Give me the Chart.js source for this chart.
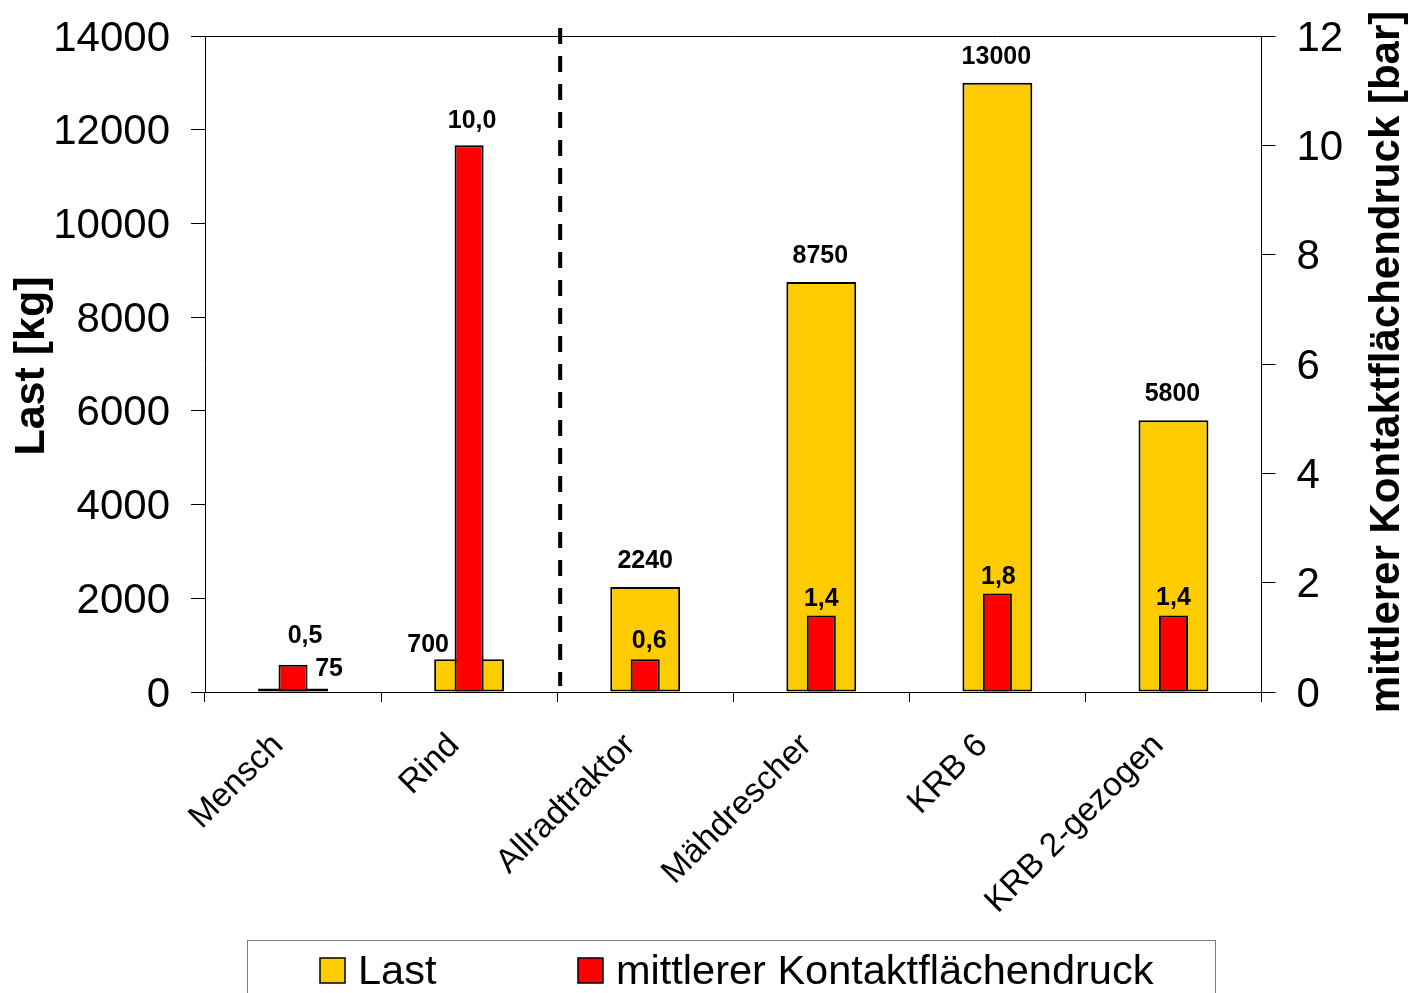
<!DOCTYPE html>
<html lang="de">
<head>
<meta charset="utf-8">
<title>Last und mittlerer Kontaktflächendruck</title>
<script src="https://cdn.jsdelivr.net/npm/chart.js@4/dist/chart.umd.min.js"></script>
<style>
  html, body { margin: 0; padding: 0; background: #ffffff; }
  #wrap { width: 1408px; height: 993px; position: relative; }
  canvas { display: block; }
</style>
</head>
<body>
<div id="wrap"><canvas id="chart" width="1408" height="993"></canvas></div>
<script>
// Categories and series values
const categories = ['Mensch', 'Rind', 'Allradtraktor', 'Mähdrescher', 'KRB 6', 'KRB 2-gezogen'];
const lastKg = [75, 700, 2240, 8750, 13000, 5800];
const druckBar = [0.5, 10.0, 0.6, 1.4, 1.8, 1.4];

// Tick values of both value axes
const lastTicks = [0, 2000, 4000, 6000, 8000, 10000, 12000, 14000];
const druckTicks = [0, 2, 4, 6, 8, 10, 12];

// Texts
const seriesNames = ['Last', 'mittlerer Kontaktflächendruck'];
const axisTitles = ['Last [kg]', 'mittlerer Kontaktflächendruck [bar]'];

const FONT = '"Liberation Sans", Arial, Helvetica, sans-serif';
const YELLOW = '#FFCC00';
const RED = '#FF0000';

Chart.defaults.font.family = FONT;
Chart.defaults.color = '#000000';

// Plot frame top edge and the dashed divider between animals and machines
const framePlugin = {
  id: 'frameAndDivider',
  afterDatasetsDraw(chart) {
    const { ctx, chartArea: a, scales: { x } } = chart;
    ctx.save();
    ctx.strokeStyle = '#000000';
    ctx.lineWidth = 1;
    ctx.beginPath();
    ctx.moveTo(a.left, a.top + 0.5);
    ctx.lineTo(a.right, a.top + 0.5);
    ctx.stroke();

    const xd = (x.getPixelForValue(1) + x.getPixelForValue(2)) / 2 + 3;
    ctx.lineWidth = 4;
    ctx.setLineDash([16, 12]);
    ctx.beginPath();
    ctx.moveTo(xd, a.top - 8);
    ctx.lineTo(xd, a.bottom - 6);
    ctx.stroke();
    ctx.restore();
  }
};

// Value labels above the bars
const valueLabelPlugin = {
  id: 'valueLabels',
  afterDatasetsDraw(chart, args, opts) {
    const { ctx } = chart;
    ctx.save();
    ctx.font = 'bold 25px ' + FONT;
    ctx.fillStyle = '#000000';
    ctx.textAlign = 'center';
    ctx.textBaseline = 'alphabetic';
    chart.data.datasets.forEach((ds, di) => {
      const meta = chart.getDatasetMeta(di);
      const cfg = opts.series[di];
      meta.data.forEach((bar, i) => {
        const v = ds.data[i];
        const txt = cfg.decimals ? v.toFixed(cfg.decimals).replace('.', ',') : String(v);
        const s = cfg.shift[i] || [0, 0];
        ctx.fillText(txt, bar.x + s[0], bar.y - cfg.rise + s[1]);
      });
    });
    ctx.restore();
  }
};

// Axis titles, both reading bottom to top
const axisTitlePlugin = {
  id: 'axisTitles',
  afterDraw(chart) {
    const { ctx, chartArea: a } = chart;
    const cy = (a.top + a.bottom) / 2;
    ctx.save();
    ctx.fillStyle = '#000000';
    ctx.textAlign = 'center';
    ctx.textBaseline = 'alphabetic';
    ctx.save();
    ctx.translate(44, cy + 2);
    ctx.rotate(-Math.PI / 2);
    ctx.font = 'bold 43px ' + FONT;
    ctx.fillText(axisTitles[0], 0, 0);
    ctx.restore();
    ctx.save();
    ctx.translate(1399, cy - 2);
    ctx.rotate(-Math.PI / 2);
    ctx.font = 'bold 42px ' + FONT;
    ctx.fillText(axisTitles[1], 0, 0);
    ctx.restore();
    ctx.restore();
  }
};

// Framed legend below the category labels
const boxLegendPlugin = {
  id: 'boxLegend',
  afterDraw(chart) {
    const { ctx } = chart;
    ctx.save();
    ctx.strokeStyle = '#808080';
    ctx.lineWidth = 1;
    ctx.strokeRect(247.5, 940.5, 968, 70);
    const items = [
      { x: 320, color: YELLOW, text: seriesNames[0] },
      { x: 578, color: RED, text: seriesNames[1] }
    ];
    ctx.font = '41.5px ' + FONT;
    ctx.textAlign = 'left';
    ctx.textBaseline = 'alphabetic';
    items.forEach(it => {
      ctx.fillStyle = it.color;
      ctx.fillRect(it.x, 958, 25, 25);
      ctx.strokeStyle = '#000000';
      ctx.lineWidth = 1.5;
      ctx.strokeRect(it.x, 958, 25, 25);
      ctx.fillStyle = '#000000';
      ctx.fillText(it.text, it.x + 38, 984);
    });
    ctx.restore();
  }
};

// Fixed axis box sizes so the plot area sits where it should
const fixVertical = w => s => { s.width = w; s.paddingTop = 0; s.paddingBottom = 0; };

const ctx = document.getElementById('chart').getContext('2d');
new Chart(ctx, {
  type: 'bar',
  data: {
    labels: categories,
    datasets: [
      {
        label: seriesNames[0],
        data: lastKg,
        yAxisID: 'y',
        backgroundColor: YELLOW,
        borderColor: '#000000',
        borderWidth: 2,
        borderSkipped: false,
        barPercentage: 0.397,
        categoryPercentage: 1,
        grouped: false,
        order: 2
      },
      {
        label: seriesNames[1],
        data: druckBar,
        yAxisID: 'y1',
        backgroundColor: RED,
        borderColor: '#000000',
        borderWidth: 2,
        borderSkipped: false,
        barPercentage: 0.165,
        categoryPercentage: 1,
        grouped: false,
        order: 1
      }
    ]
  },
  options: {
    responsive: false,
    animation: false,
    devicePixelRatio: 1,
    layout: { padding: { top: 36, left: 0, right: 0, bottom: 0 } },
    plugins: {
      legend: { display: false },
      tooltip: { enabled: false },
      valueLabels: {
        series: [
          { decimals: 0, rise: 19, shift: [[36, 7], [-41, 12], [0, 0], [-1, 0], [-1, 0], [-1, 0]] },
          { decimals: 1, rise: 10, shift: [[12, -12], [3, -7], [4, -1], [0, 1], [1, 0], [0, 0]] }
        ]
      }
    },
    scales: {
      x: {
        offset: true,
        grid: { offset: true, drawOnChartArea: false, drawTicks: true, tickLength: 10, color: '#000000', lineWidth: 1 },
        border: { display: true, color: '#000000', width: 1 },
        ticks: {
          autoSkip: false, maxRotation: 45, minRotation: 45,
          font: { size: 33.5 }, color: '#000000', padding: 24, labelOffset: -15
        },
        afterFit: s => { s.height = 301; }
      },
      y: {
        position: 'left',
        min: 0, max: 14000,
        afterBuildTicks: s => { s.ticks = lastTicks.map(v => ({ value: v })); },
        ticks: { font: { size: 42 }, color: '#000000', padding: 21, labelOffset: 3, callback: v => String(v) },
        grid: { drawOnChartArea: false, drawTicks: true, tickLength: 14, color: '#000000', lineWidth: 1 },
        border: { display: true, color: '#000000', width: 1 },
        afterFit: fixVertical(205)
      },
      y1: {
        position: 'right',
        min: 0, max: 12,
        afterBuildTicks: s => { s.ticks = druckTicks.map(v => ({ value: v })); },
        ticks: { font: { size: 42 }, color: '#000000', padding: 21, labelOffset: 3, callback: v => String(v) },
        grid: { drawOnChartArea: false, drawTicks: true, tickLength: 14, color: '#000000', lineWidth: 1 },
        border: { display: true, color: '#000000', width: 1 },
        afterFit: fixVertical(146.5)
      }
    }
  },
  plugins: [framePlugin, valueLabelPlugin, axisTitlePlugin, boxLegendPlugin]
});
</script>
</body>
</html>
